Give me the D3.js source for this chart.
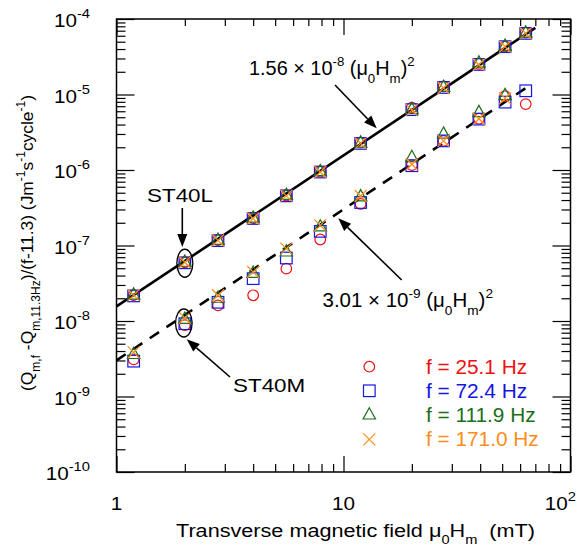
<!DOCTYPE html>
<html><head><meta charset="utf-8">
<script src="https://cdn.jsdelivr.net/npm/d3@7/dist/d3.min.js"></script>
<style>body{margin:0;background:#fff}svg{display:block;font-family:"Liberation Sans",Arial,sans-serif}</style>
</head><body><svg id="c" width="587" height="553"></svg>
<script>
const H = [1.19, 2.0, 2.8, 4.0, 5.6, 7.9, 11.9, 20.0, 27.6, 39.5, 51.5, 63.5];
// ST40L (upper group)
const L_f25 = [2.2e-8, 6.0e-8, 1.18e-7, 2.3e-7, 4.6e-7, 9.5e-7, 2.3e-6, 6.7e-6, 1.28e-5, 2.55e-5, 4.3e-5, 6.6e-5];
const L_f72 = [2.15e-8, 5.9e-8, 1.16e-7, 2.28e-7, 4.55e-7, 9.4e-7, 2.25e-6, 6.3e-6, 1.24e-5, 2.5e-5, 4.3e-5, 6.45e-5];
const L_f112 = [2.2e-8, 6.0e-8, 1.17e-7, 2.3e-7, 4.6e-7, 9.5e-7, 2.27e-6, 6.3e-6, 1.24e-5, 2.6e-5, 4.35e-5, 6.5e-5];
const L_f171 = [2.2e-8, 6.0e-8, 1.17e-7, 2.28e-7, 4.55e-7, 9.4e-7, 2.25e-6, 6.2e-6, 1.22e-5, 2.48e-5, 4.3e-5, 6.45e-5];
// ST40M (lower group)
const M_f25 = [3.1e-9, 8.8e-9, 1.61e-8, 2.19e-8, 4.94e-8, 1.2e-7, 3.55e-7, 1.16e-6, 2.43e-6, 4.78e-6, 9.5e-6, 7.46e-6];
const M_f72 = [2.94e-9, 9.2e-9, 1.77e-8, 3.64e-8, 6.83e-8, 1.54e-7, 3.71e-7, 1.14e-6, 2.43e-6, 4.72e-6, 7.93e-6, 1.12e-5];
const M_f112 = [3.6e-9, 1.05e-8, 2.0e-8, 4.28e-8, 8.2e-8, 1.76e-7, 4.4e-7, 1.46e-6, 2.98e-6, 5.75e-6, 9.66e-6, null];
const M_f171 = [3.84e-9, 1.1e-8, 2.19e-8, 4.45e-8, 9.1e-8, 1.85e-7, 4.52e-7, 1.19e-6, 2.43e-6, 4.78e-6, 8.9e-6, null];
const fitL = {coef: 1.56e-8, h0: 1, h1: 70};
const fitM = {coef: 3.01e-9, h0: 1, h1: 67};
const legendLabels = ["f = 25.1 Hz", "f = 72.4 Hz", "f = 111.9 Hz", "f = 171.0 Hz"];
const xMajor = [1, 10, 100];
const yMajor = [1e-10, 1e-9, 1e-8, 1e-7, 1e-6, 1e-5, 1e-4];

const colors = ["#ee1111", "#1515e6", "#1a6e1a", "#ff8c1a"];
const shapes = ["circle", "square", "triangle", "cross"];
const series = [
  {L: L_f25, M: M_f25}, {L: L_f72, M: M_f72}, {L: L_f112, M: M_f112}, {L: L_f171, M: M_f171}
];

const svg = d3.select("#c");
const pL = 116.5, pR = 570.5, pT = 19, pB = 472;
const x = d3.scaleLog().domain([1, 100]).range([pL, pR]);
const y = d3.scaleLog().domain([1e-10, 1e-4]).range([pB, pT]);
const font = '"Liberation Sans",Arial,sans-serif';

function minors(lo, hi) {
  const out = [];
  for (let e = lo; e < hi; e++) for (let k = 2; k <= 9; k++) out.push(k * Math.pow(10, e));
  return out;
}
const xMinor = minors(0, 2), yMinor = minors(-10, -4);

function styleAxis(g) {
  g.select(".domain").remove();
  g.selectAll("line").attr("stroke", "#000").attr("stroke-width", 1.2);
  g.selectAll("text").remove();
}
svg.append("g").attr("transform", `translate(${pL},0)`).call(d3.axisLeft(y).tickValues(yMajor).tickSize(-18)).call(styleAxis);
svg.append("g").attr("transform", `translate(${pL},0)`).call(d3.axisLeft(y).tickValues(yMinor).tickSize(-9)).call(styleAxis);
svg.append("g").attr("transform", `translate(${pR},0)`).call(d3.axisRight(y).tickValues(yMajor).tickSize(-18)).call(styleAxis);
svg.append("g").attr("transform", `translate(${pR},0)`).call(d3.axisRight(y).tickValues(yMinor).tickSize(-9)).call(styleAxis);
svg.append("g").attr("transform", `translate(0,${pB})`).call(d3.axisBottom(x).tickValues(xMajor).tickSize(-16)).call(styleAxis);
svg.append("g").attr("transform", `translate(0,${pB})`).call(d3.axisBottom(x).tickValues(xMinor).tickSize(-8)).call(styleAxis);
svg.append("g").attr("transform", `translate(0,${pT})`).call(d3.axisTop(x).tickValues(xMajor).tickSize(-16)).call(styleAxis);
svg.append("g").attr("transform", `translate(0,${pT})`).call(d3.axisTop(x).tickValues(xMinor).tickSize(-7)).call(styleAxis);

svg.append("rect").attr("x", pL).attr("y", pT).attr("width", pR - pL).attr("height", pB - pT)
  .attr("fill", "none").attr("stroke", "#000").attr("stroke-width", 1.5);

// text helper: positioned text with horizontal stretch
function txt(xp, yp, size, sx, anchor) {
  return svg.append("text").attr("transform", `translate(${xp},${yp}) scale(${sx},1)`)
    .attr("text-anchor", anchor || "start").attr("font-size", size).attr("font-family", font);
}

// y tick labels
yMajor.forEach(v => {
  const e = Math.round(Math.log10(v));
  const t = txt(90, y(v) + 8, 17.5, 1.18, "end");
  t.append("tspan").text("10");
  t.append("tspan").attr("dy", -9).attr("font-size", 12.5).text(String(e));
});
// x tick labels
txt(x(1), 510, 17.5, 1.18, "middle").text("1");
txt(x(10), 510, 17.5, 1.18, "middle").text("10");
{
  const t = txt(576, 510, 17.5, 1.18, "end");
  t.append("tspan").text("10");
  t.append("tspan").attr("dy", -9).attr("font-size", 12.5).text("2");
}

// axis titles
{
  const t = txt(176, 537, 18.5, 1.17, "start");
  t.append("tspan").text("Transverse magnetic field μ");
  t.append("tspan").attr("dy", 7).attr("font-size", 12.5).text("0");
  t.append("tspan").attr("dy", -7).text("H");
  t.append("tspan").attr("dy", 7).attr("font-size", 12.5).text("m");
  t.append("tspan").attr("dy", -7).text("\u00a0\u00a0(mT)");
}
{
  const t = svg.append("text").attr("transform", "translate(33,243) rotate(-90)").attr("text-anchor", "middle")
    .attr("font-size", 17.4).attr("font-family", font);
  t.append("tspan").text("(Q");
  t.append("tspan").attr("dy", 7).attr("font-size", 12).text("m,f");
  t.append("tspan").attr("dy", -7).text(" -Q");
  t.append("tspan").attr("dy", 7).attr("font-size", 12).text("m,11.3Hz");
  t.append("tspan").attr("dy", -7).text(")/(f-11.3) (Jm");
  t.append("tspan").attr("dy", -8).attr("font-size", 12).text("-1");
  t.append("tspan").attr("dy", 8).text("s");
  t.append("tspan").attr("dy", -8).attr("font-size", 12).text("-1");
  t.append("tspan").attr("dy", 8).text("cycle");
  t.append("tspan").attr("dy", -8).attr("font-size", 12).text("-1");
  t.append("tspan").attr("dy", 8).text(")");
}

// fit lines
function fitPts(f) {
  return [f.h0, f.h1].map(h => [x(h), y(f.coef * h * h)]);
}
const line = d3.line();
svg.append("path").attr("d", line(fitPts(fitL))).attr("stroke", "#000").attr("stroke-width", 2.6).attr("fill", "none");
svg.append("path").attr("d", line(fitPts(fitM))).attr("stroke", "#000").attr("stroke-width", 2.6).attr("fill", "none")
  .attr("stroke-dasharray", "11,9");

// markers
function marker(g, shape, cx, cy, col) {
  if (shape === "circle") g.append("circle").attr("cx", cx).attr("cy", cy).attr("r", 5.3).attr("fill", "none").attr("stroke", col).attr("stroke-width", 1.2);
  else if (shape === "square") g.append("rect").attr("x", cx - 5.8).attr("y", cy - 5.8).attr("width", 11.6).attr("height", 11.6).attr("fill", "none").attr("stroke", col).attr("stroke-width", 1.2);
  else if (shape === "triangle") g.append("path").attr("d", `M${cx},${cy - 7.3}L${cx + 6.2},${cy + 4}L${cx - 6.2},${cy + 4}Z`).attr("fill", "none").attr("stroke", col).attr("stroke-width", 1.2);
  else g.append("path").attr("d", `M${cx - 6},${cy - 6}L${cx + 6},${cy + 6}M${cx + 6},${cy - 6}L${cx - 6},${cy + 6}`).attr("fill", "none").attr("stroke", col).attr("stroke-width", 1.2);
}
const mg = svg.append("g");
series.forEach((s, i) => {
  [s.L, s.M].forEach(arr => {
    arr.forEach((v, j) => { if (v != null) marker(mg, shapes[i], x(H[j]), y(v), colors[i]); });
  });
});

// legend
const legY = [366.7, 390.8, 415, 439.3];
const legCol = ["#ee1111", "#1515e6", "#1a6e1a", "#ff8c1a"];
legendLabels.forEach((lab, i) => {
  marker(svg, shapes[i], 369.3, legY[i], colors[i]);
  txt(426, legY[i] + 7, 20, 1.04, "start").attr("fill", legCol[i]).text(lab);
});

// ellipses
svg.append("ellipse").attr("cx", x(2.0)).attr("cy", y(6.0e-8) + 1).attr("rx", 8).attr("ry", 14).attr("fill", "none").attr("stroke", "#000").attr("stroke-width", 1.3);
svg.append("ellipse").attr("cx", x(2.0) - 1).attr("cy", y(1.0e-8) + 2).attr("rx", 8.3).attr("ry", 14).attr("fill", "none").attr("stroke", "#000").attr("stroke-width", 1.3);

// arrows
function arrow(x0, y0, x1, y1) {
  const a = Math.atan2(y1 - y0, x1 - x0), L = 13, W = 5;
  const bx = x1 - L * Math.cos(a), by = y1 - L * Math.sin(a);
  svg.append("line").attr("x1", x0).attr("y1", y0).attr("x2", bx).attr("y2", by).attr("stroke", "#000").attr("stroke-width", 1.6);
  const px = -Math.sin(a) * W, py = Math.cos(a) * W;
  svg.append("path").attr("d", `M${x1},${y1}L${bx + px},${by + py}L${bx - px},${by - py}Z`).attr("fill", "#000");
}
arrow(335, 85, 376.7, 128.3);
arrow(401.7, 280, 338.3, 218.3);
arrow(182.3, 208, 182.3, 247);
arrow(230, 377, 186.7, 339.3);

// annotation texts
function fitLabel(xp, yp, coef, exp, sx) {
  const t = txt(xp, yp, 19.5, sx, "start");
  t.append("tspan").text(coef + " × 10");
  t.append("tspan").attr("dy", -9).attr("font-size", 13).text(exp);
  t.append("tspan").attr("dy", 9).text(" (μ");
  t.append("tspan").attr("dy", 8).attr("font-size", 13).text("0");
  t.append("tspan").attr("dy", -8).text("H");
  t.append("tspan").attr("dy", 8).attr("font-size", 13).text("m");
  t.append("tspan").attr("dy", -8).text(")");
  t.append("tspan").attr("dy", -9).attr("font-size", 13).text("2");
}
fitLabel(249, 75, "1.56", "-8", 1.02);
fitLabel(322.5, 306.5, "3.01", "-9", 1.05);
txt(147, 202, 19, 1.18, "start").text("ST40L");
txt(233, 392, 19, 1.18, "start").text("ST40M");
</script></body></html>
